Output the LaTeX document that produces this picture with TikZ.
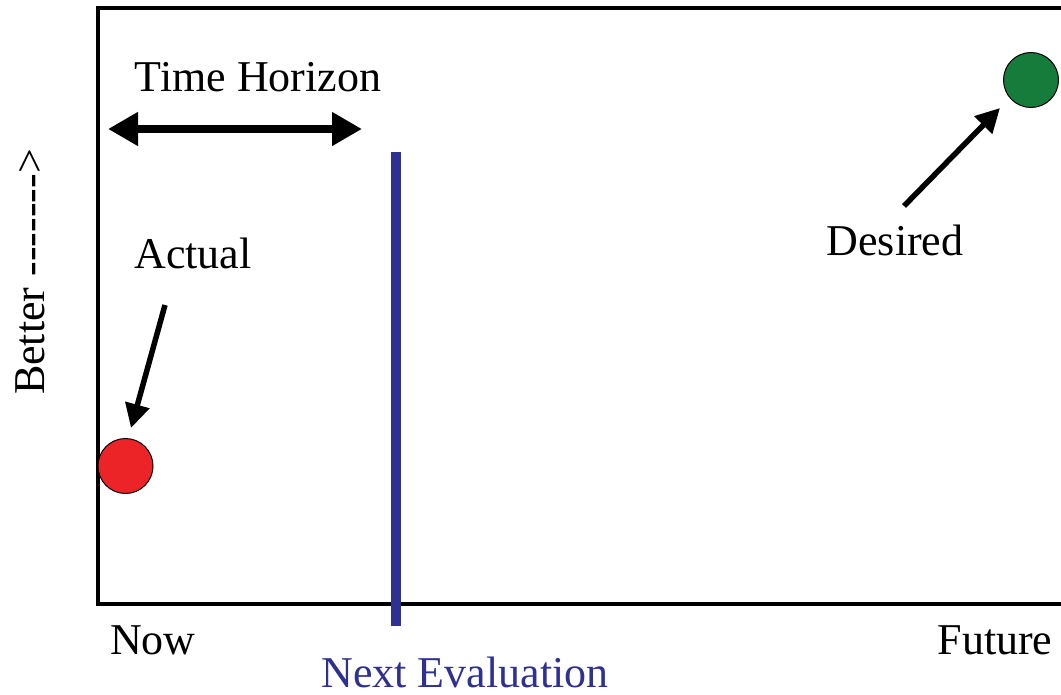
\documentclass[tikz,border=0pt]{standalone}
\usepackage{fontspec}
\setmainfont[Ligatures={NoCommon}]{Liberation Serif}
\usetikzlibrary{arrows.meta}
\definecolor{evalblue}{RGB}{46,49,146}
\definecolor{actualred}{RGB}{237,36,39}
\definecolor{desiredgreen}{RGB}{22,124,60}
\begin{document}
\begin{tikzpicture}[x=1pt,y=-1pt,
  lbl/.style={inner sep=0pt,font=\fontsize{44}{50}\selectfont},
  pointer/.style={line width=5.5pt,-{Triangle[length=24pt,width=24pt]}},
  dot/.style={circle,draw=black,line width=1pt,inner sep=0pt,minimum size=55pt}]
  \useasboundingbox (0,0) rectangle (1061,695);
  % chart frame, open to the right
  \draw[line width=4pt] (1063,8) -- (98,8) -- (98,604) -- (1063,604);
  % next evaluation marker
  \coordinate (evtop) at (396,152);
  \coordinate (evbot) at (396,626);
  \draw[evalblue,line width=10pt] (evtop) -- (evbot);
  % time horizon span
  \node[lbl] (th) at (258,77) {Time Horizon};
  \coordinate (thl) at (108,129);
  \coordinate (thr) at (362,129);
  \draw[line width=8pt,{Triangle[length=30pt,width=32pt]}-{Triangle[length=30pt,width=32pt]}] (thl) -- (thr);
  % states
  \node[dot,fill=actualred] (act) at (125.5,466) {};
  \node[dot,fill=desiredgreen] (des) at (1031,80) {};
  \node[lbl] (actl) at (193,253) {Actual};
  \node[lbl] (desl) at (895,240) {Desired};
  \coordinate (acts) at (165,305);
  \coordinate (dess) at (904,206);
  \draw[pointer] (acts) -- (131,428);
  \draw[pointer] (dess) -- (1000,108);
  % axis labels
  \node[lbl] (now) at (153,640) {Now};
  \node[lbl] (fut) at (995,640) {Future};
  \node[lbl,text=evalblue] (next) at (465,672) {Next Evaluation};
  \node[lbl,rotate=90] (better) at (30,272) {Better {-}{-}{-}{-}{-}{-}{-}>};
\end{tikzpicture}
\end{document}
